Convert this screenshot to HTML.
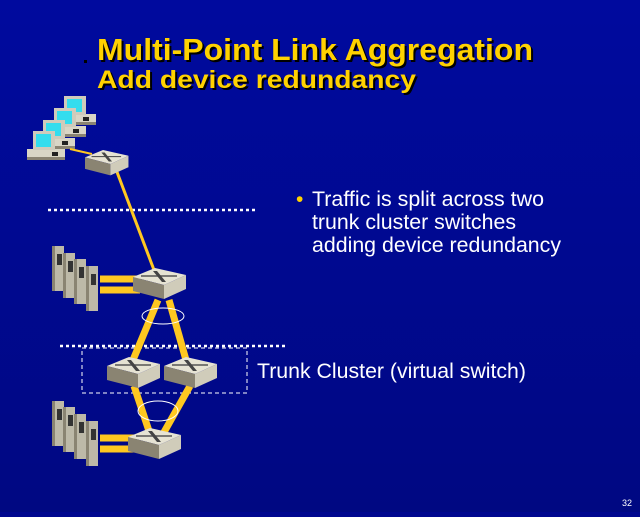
<!DOCTYPE html>
<html><head><style>
body{margin:0;width:640px;height:512px;overflow:hidden;background:#00078f}
</style></head><body>
<svg width="640" height="512" xmlns="http://www.w3.org/2000/svg" font-family="Liberation Sans, sans-serif">
<defs>
<linearGradient id="bg" x1="0" y1="0" x2="0" y2="1"><stop offset="0" stop-color="#000a9e"/><stop offset="1" stop-color="#000882"/></linearGradient>
<g id="sw">
<polygon points="0,9 22,0 53,7 31,17" fill="#e6e3d3"/>
<polygon points="0,9 31,17 31,31 0,23" fill="#8a8472"/>
<polygon points="31,17 53,7 53,21 31,31" fill="#d0ccba"/>
<line x1="8" y1="8" x2="44" y2="8" stroke="#555" stroke-width="1.5"/>
<polygon points="20,3 24,3 33,14 29,14" fill="#444"/>
</g>
<g id="srv">
<rect x="0" y="0" width="12" height="45" fill="#bdb9a8"/><rect x="0" y="0" width="3" height="45" fill="#8a8472"/>
<rect x="5" y="8" width="5" height="11" fill="#333"/>
</g>
<g id="pc">
<rect x="0" y="18" width="38" height="11" fill="#d9d6c6"/><rect x="0" y="26" width="38" height="3" fill="#8a8472"/>
<rect x="6" y="0" width="22" height="19" fill="#cfcbbb"/><rect x="9" y="3" width="15" height="13" fill="#33ddee"/>
<rect x="25" y="21" width="6" height="4" fill="#222"/>
</g>
</defs>
<rect width="640" height="512" fill="url(#bg)"/>
<g font-weight="bold">
<text x="99" y="62" font-size="31" fill="#000" textLength="436" lengthAdjust="spacingAndGlyphs">Multi-Point Link Aggregation</text>
<text x="97" y="60" font-size="31" fill="#ffd200" textLength="436" lengthAdjust="spacingAndGlyphs">Multi-Point Link Aggregation</text>
<text x="99" y="90" font-size="25" fill="#000" textLength="319" lengthAdjust="spacingAndGlyphs">Add device redundancy</text>
<text x="97" y="88" font-size="25" fill="#ffd200" textLength="319" lengthAdjust="spacingAndGlyphs">Add device redundancy</text>
</g>
<rect x="84" y="60" width="3" height="3" fill="#000"/>
<g font-size="21" fill="#fff">
<text x="296" y="206" fill="#ffd200">•</text>
<text x="312" y="206" textLength="232" lengthAdjust="spacingAndGlyphs">Traffic is split across two</text>
<text x="312" y="229" textLength="204" lengthAdjust="spacingAndGlyphs">trunk cluster switches</text>
<text x="312" y="252" textLength="249" lengthAdjust="spacingAndGlyphs">adding device redundancy</text>
<text x="257" y="378" textLength="269" lengthAdjust="spacingAndGlyphs">Trunk Cluster (virtual switch)</text>
</g>
<text x="622" y="506" font-size="9" fill="#fff">32</text>
<line x1="48" y1="210" x2="258" y2="210" stroke="#fff" stroke-width="2.5" stroke-dasharray="3,3"/>
<line x1="60" y1="346" x2="285" y2="346" stroke="#fff" stroke-width="2.5" stroke-dasharray="3,3"/>
<rect x="82" y="348" width="165" height="45" fill="none" stroke="#fff" stroke-width="1" stroke-dasharray="4,3"/>
<use href="#pc" x="58" y="96"/><use href="#pc" x="48" y="108"/><use href="#pc" x="37" y="120"/><use href="#pc" x="27" y="131"/>
<line x1="70" y1="149" x2="92" y2="154" stroke="#ffc820" stroke-width="2"/>
<line x1="117" y1="172" x2="154" y2="270" stroke="#ffc820" stroke-width="3"/>
<g stroke="#ffc820" stroke-width="7">
<line x1="100" y1="279" x2="140" y2="279"/><line x1="100" y1="290" x2="140" y2="290"/>
<line x1="100" y1="438" x2="135" y2="438"/><line x1="100" y1="449" x2="135" y2="449"/>
<line x1="158" y1="300" x2="133" y2="360"/><line x1="169" y1="300" x2="186" y2="360"/>
<line x1="134" y1="386" x2="150" y2="434"/><line x1="190" y1="386" x2="163" y2="434"/>
</g>
<ellipse cx="163" cy="316" rx="21" ry="8" fill="none" stroke="#fff" stroke-width="1"/>
<ellipse cx="158" cy="411" rx="20" ry="10" fill="none" stroke="#fff" stroke-width="1"/>
<use href="#sw" x="85" y="150" transform="translate(85,150) scale(0.82) translate(-85,-150)"/>
<use href="#sw" x="133" y="268"/>
<use href="#sw" x="107" y="357"/><use href="#sw" x="164" y="357"/>
<use href="#sw" x="128" y="428"/>
<use href="#srv" x="52" y="246"/><use href="#srv" x="63" y="253"/><use href="#srv" x="74" y="259"/><use href="#srv" x="86" y="266"/>
<use href="#srv" x="52" y="401"/><use href="#srv" x="63" y="407"/><use href="#srv" x="74" y="414"/><use href="#srv" x="86" y="421"/>
</svg>
</body></html>
